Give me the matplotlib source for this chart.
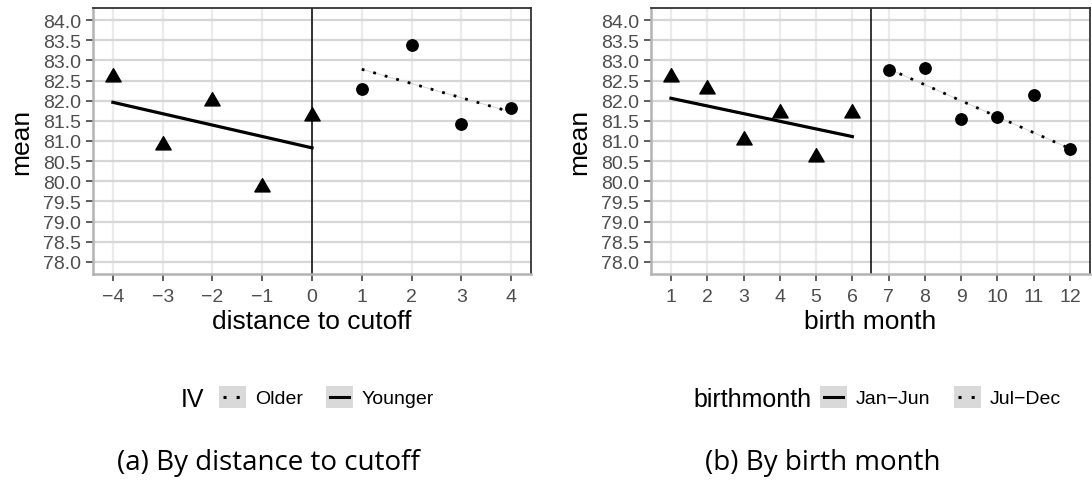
import numpy as np
import matplotlib
matplotlib.use('Agg')
import matplotlib.pyplot as plt
from matplotlib.path import Path
from matplotlib.patches import Rectangle
from matplotlib.lines import Line2D

plt.rcParams['font.family'] = ['Liberation Sans', 'DejaVu Sans']

# group means, younger/older side of the cutoff
dist_young = [-4, -3, -2, -1, 0]
mean_young = [82.58, 80.90, 82.00, 79.86, 81.62]
dist_old = [1, 2, 3, 4]
mean_old = [82.30, 83.37, 81.42, 81.81]

# fitted lines (endpoints)
fit_young_x = [-4, 0]
fit_young_y = [81.96, 80.83]
fit_old_x = [1, 4]
fit_old_y = [82.78, 81.72]

# group means by birth month
month_h1 = [1, 2, 3, 4, 5, 6]
mean_h1 = [82.58, 82.28, 81.02, 81.70, 80.61, 81.70]
month_h2 = [7, 8, 9, 10, 11, 12]
mean_h2 = [82.77, 82.82, 81.54, 81.59, 82.14, 80.80]

fit_h1_x = [1, 6]
fit_h1_y = [82.06, 81.11]
fit_h2_x = [7, 12]
fit_h2_y = [82.79, 80.81]

yticks = np.arange(78.0, 84.01, 0.5)

W, H = 1092, 485
fig = plt.figure(figsize=(W / 100, H / 100), dpi=100)

# triangle centred on its centroid (like R's pch 17)
tri = Path([(0, 1), (-0.866, -0.5), (0.866, -0.5), (0, 1)],
           [Path.MOVETO, Path.LINETO, Path.LINETO, Path.CLOSEPOLY])

DOTS = (0, (1, 3.3))


def style_axes(ax, xticks, xlim, xlabel):
    ax.set_xlim(*xlim)
    ax.set_ylim(77.7, 84.3)
    ax.set_xticks(xticks)
    ax.set_yticks(yticks)
    ax.set_xticklabels([str(t).replace('-', '\u2212') for t in xticks])
    ax.set_yticklabels(['%.1f' % t for t in yticks])
    ax.grid(axis='y', color='#d6d6d6', lw=1.6, zorder=0)
    ax.grid(axis='x', color='#ebebeb', lw=1.6, zorder=0)
    ax.set_axisbelow(True)
    for s in ['top', 'right']:
        ax.spines[s].set_color('#333333')
        ax.spines[s].set_linewidth(1.3)
    for s in ['left', 'bottom']:
        ax.spines[s].set_color('#b3b3b3')
        ax.spines[s].set_linewidth(1.8)
    ax.tick_params(length=4.7, width=1.1, color='#333333',
                   labelcolor='#4d4d4d', labelsize=14)
    ax.tick_params(axis='y', pad=4)
    ax.tick_params(axis='x', pad=5.5)
    ax.set_xlabel(xlabel, fontsize=19, labelpad=3)
    ax.set_ylabel('mean', fontsize=19, labelpad=7)


def legend_row(title, x_title_end, entries, y):
    # entries: (box_left, label, linestyle)
    fig.text(x_title_end / W, 1 - y / H, title, fontsize=18,
             ha='right', va='center_baseline')
    for bx, label, ls in entries:
        fig.patches.append(Rectangle((bx / W, 1 - (y + 11) / H), 27 / W, 22 / H,
                                     transform=fig.transFigure,
                                     facecolor='#d9d9d9', edgecolor='none'))
        fig.lines.append(Line2D([(bx + 4) / W, (bx + 23) / W], [1 - y / H] * 2,
                                transform=fig.transFigure, color='black',
                                lw=2.2, ls=ls))
        fig.text((bx + 36) / W, 1 - y / H, label, fontsize=14,
                 ha='left', va='center_baseline')


ax1 = fig.add_axes([93 / W, 1 - 275 / H, 438 / W, 266 / H])
ax1.axvline(0, color='black', lw=1.1, zorder=2)
ax1.plot(fit_young_x, fit_young_y, color='black', lw=2.3, zorder=3)
ax1.plot(fit_old_x, fit_old_y, color='#d0d0d0', lw=0.6, zorder=3)
ax1.plot(fit_old_x, fit_old_y, color='black', lw=2.0, ls=DOTS, zorder=3)
ax1.plot(dist_young, mean_young, ls='none', marker=tri, ms=12.7,
         color='black', zorder=4)
ax1.plot(dist_old, mean_old, ls='none', marker='o', ms=8.2,
         color='black', zorder=4)
style_axes(ax1, list(range(-4, 5)), (-4.4, 4.4), 'distance to cutoff')

ax2 = fig.add_axes([651 / W, 1 - 275 / H, 439 / W, 266 / H])
ax2.axvline(6.5, color='black', lw=1.1, zorder=2)
ax2.plot(fit_h1_x, fit_h1_y, color='black', lw=2.3, zorder=3)
ax2.plot(fit_h2_x, fit_h2_y, color='#d0d0d0', lw=0.6, zorder=3)
ax2.plot(fit_h2_x, fit_h2_y, color='black', lw=2.0, ls=DOTS, zorder=3)
ax2.plot(month_h1, mean_h1, ls='none', marker=tri, ms=12.7,
         color='black', zorder=4)
ax2.plot(month_h2, mean_h2, ls='none', marker='o', ms=8.2,
         color='black', zorder=4)
style_axes(ax2, list(range(1, 13)), (0.45, 12.55), 'birth month')

legend_row('IV', 204, [(219, 'Older', DOTS),
                       (326, 'Younger', '-')], 398)
legend_row('birthmonth', 812, [(820, 'Jan\u2212Jun', '-'),
                               (954, 'Jul\u2212Dec', DOTS)], 398)

fig.text(268 / W, 1 - 463 / H, '(a) By distance to cutoff',
         fontsize=20, family='Open Sans', ha='center', va='center')
fig.text(823 / W, 1 - 463 / H, '(b) By birth month',
         fontsize=20, family='Open Sans', ha='center', va='center')

fig.savefig('out.png', dpi=100)
